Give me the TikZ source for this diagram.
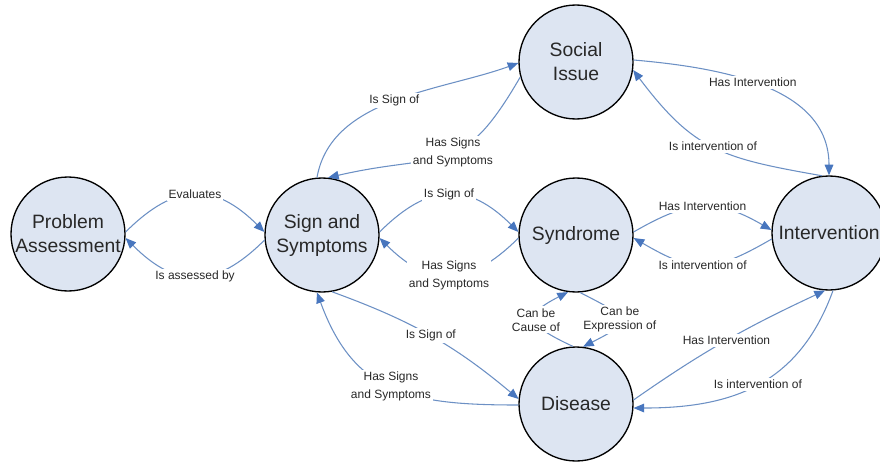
\documentclass[tikz,border=0pt]{standalone}
\usepackage{fontspec}
\setmainfont{Liberation Sans}
\usepackage{xcolor}
\usetikzlibrary{arrows.meta}

\definecolor{conceptfill}{RGB}{221,229,242}
\definecolor{linkblue}{RGB}{108,144,196}
\definecolor{tipblue}{RGB}{72,118,190}
\definecolor{textgray}{RGB}{40,40,40}

\begin{document}
\begin{tikzpicture}[x=0.75pt,y=0.75pt,
    concept/.style={circle, draw=black, line width=1pt, fill=conceptfill, minimum size=85.5pt, inner sep=0pt, align=center, text=textgray, font=\fontsize{14.5}{18}\selectfont},
    link/.style={draw=linkblue, line width=0.8pt, -{Triangle[length=8pt,width=6.5pt,color=tipblue]}},
    lbl/.style={fill=white, inner sep=1.5pt, align=center, text=textgray, font=\fontsize{9}{13.5}\selectfont},
    lbltight/.style={lbl, font=\fontsize{9}{10.5}\selectfont}]
    \useasboundingbox (0,0) rectangle (880,462);

    %Shape: Circle
    \node[concept] (pa) at (68,228) {Problem\\Assessment};
    \node[concept] (ss) at (322,227) {Sign and\\Symptoms};
    \node[concept] (si) at (576,400) {Social\\Issue};
    \node[concept] (sy) at (576,227) {Syndrome};
    \node[concept] (iv) at (829,229) {Intervention};
    \node[concept] (di) at (576,58) {Disease};

    %Curve Lines: left pair
    \draw[link] (pa.2) to[out=45,in=135,looseness=1.3] node[lbl]{Evaluates} (ss.177);
    \draw[link] (ss.185) to[out=-135,in=-45,looseness=1.3] node[lbl]{Is assessed by} (pa.-4);

    %Curve Lines: to and from Social Issue
    \draw[link] (ss.95) to[out=80,in=200,looseness=0.9] node[lbl]{Is Sign of} (si.181);
    \draw[link] (si.195) to[out=240,in=13,looseness=1.4] node[lbl,pos=0.45]{Has Signs\\and Symptoms} (ss.84);
    \draw[link] (si.2) to[out=-5,in=90] node[lbl,pos=0.45]{Has Intervention} (iv.90);
    \draw[link] (iv.97) to[out=170,in=-53,looseness=1.2] node[lbl]{Is intervention of} (si.-8);

    %Curve Lines: middle row
    \draw[link] (ss.3) to[out=45,in=135,looseness=1.3] node[lbl]{Is Sign of} (sy.177);
    \draw[link] (sy.183) to[out=-135,in=-45,looseness=1.3] node[lbl]{Has Signs\\and Symptoms} (ss.-3);
    \draw[link] (sy.3) to[out=30,in=150,looseness=1.2] node[lbl]{Has Intervention} (iv.177);
    \draw[link] (iv.186) to[out=-150,in=-30,looseness=1.3] node[lbl]{Is intervention of} (sy.-3);

    %Curve Lines: to and from Disease
    \draw[link] (ss.-80) to[out=-20,in=140] node[lbl]{Is Sign of} (di.175);
    \draw[link] (di.181) to[out=180,in=-70,looseness=1.2] node[lbl]{Has Signs\\and Symptoms} (ss.-95);
    \draw[link] (di.93) to[out=155,in=-153,looseness=2.4] node[lbltight]{Can be\\Cause of} (sy.262);
    \draw[link] (sy.274) to[out=-27,in=27,looseness=2.7] node[lbltight]{Can be\\Expression of} (di.83);
    \draw[link] (di.4) to[out=35,in=-155] node[lbl]{Has Intervention} (iv.-94);
    \draw[link] (iv.-86) to[out=250,in=0,looseness=1.1] node[lbl]{Is intervention of} (di.-4);

\end{tikzpicture}
\end{document}
